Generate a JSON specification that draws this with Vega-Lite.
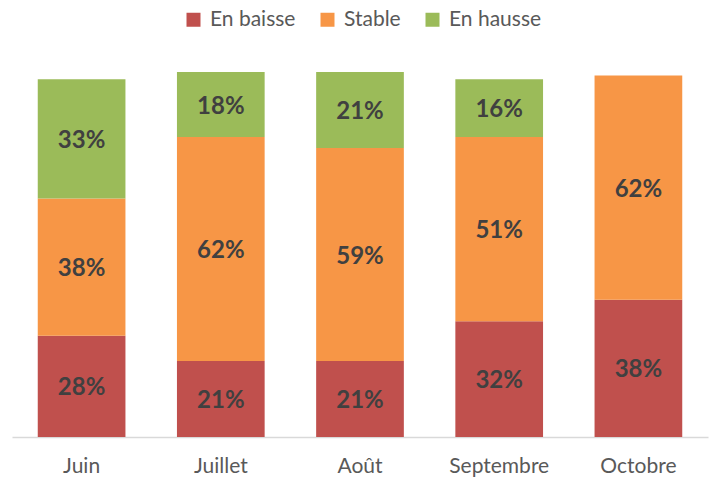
{
  "$schema": "https://vega.github.io/schema/vega-lite/v6.json",
  "autosize": "none",
  "width": 696,
  "height": 365,
  "padding": {"left": 12, "top": 72, "right": 9, "bottom": 43},
  "background": "white",
  "config": {"view": {"stroke": null}, "font": "Lato"},
  "data": {"values": [
    {"mois": "Juin", "cat": "En baisse", "k": 1, "v": 0.28},
    {"mois": "Juin", "cat": "Stable", "k": 2, "v": 0.38},
    {"mois": "Juin", "cat": "En hausse", "k": 3, "v": 0.33},
    {"mois": "Juillet", "cat": "En baisse", "k": 1, "v": 0.21},
    {"mois": "Juillet", "cat": "Stable", "k": 2, "v": 0.62},
    {"mois": "Juillet", "cat": "En hausse", "k": 3, "v": 0.18},
    {"mois": "Août", "cat": "En baisse", "k": 1, "v": 0.21},
    {"mois": "Août", "cat": "Stable", "k": 2, "v": 0.59},
    {"mois": "Août", "cat": "En hausse", "k": 3, "v": 0.21},
    {"mois": "Septembre", "cat": "En baisse", "k": 1, "v": 0.32},
    {"mois": "Septembre", "cat": "Stable", "k": 2, "v": 0.51},
    {"mois": "Septembre", "cat": "En hausse", "k": 3, "v": 0.16},
    {"mois": "Octobre", "cat": "En baisse", "k": 1, "v": 0.38},
    {"mois": "Octobre", "cat": "Stable", "k": 2, "v": 0.62}
  ]},
  "encoding": {
    "x": {"field": "mois", "type": "nominal", "sort": ["Juin", "Juillet", "Août", "Septembre", "Octobre"],
      "scale": {"paddingInner": 0.37, "paddingOuter": 0.185},
      "axis": {"title": null, "labelAngle": 0, "ticks": false, "domainColor": "#d9d9d9", "domainWidth": 1.5, "labelFontSize": 21, "labelColor": "#595959", "labelPadding": 18, "labelFont": "Lato"}},
    "y": {"field": "v", "type": "quantitative", "stack": "zero", "scale": {"domain": [0, 1.01], "nice": false}, "axis": null},
    "order": {"field": "k", "type": "quantitative"}
  },
  "layer": [
    {"mark": {"type": "bar"},
     "encoding": {"color": {"field": "cat", "type": "nominal",
       "scale": {"domain": ["En baisse", "Stable", "En hausse"], "range": ["#C0504D", "#F79646", "#9BBB59"]},
       "legend": {"title": null, "orient": "none", "legendX": 171, "legendY": -63, "direction": "horizontal", "symbolType": "square", "symbolSize": 196, "symbolStrokeWidth": 0, "labelFontSize": 21, "labelColor": "#595959", "labelFont": "Lato", "columnPadding": 21, "labelOffset": 6}}}},
    {"mark": {"type": "text", "fontSize": 24, "fontWeight": "bold", "color": "#404040", "font": "Lato", "dy": 2},
     "encoding": {"y": {"field": "v", "type": "quantitative", "stack": "zero", "bandPosition": 0.5},
       "text": {"field": "v", "type": "quantitative", "format": ".0%"}}}
  ]
}
